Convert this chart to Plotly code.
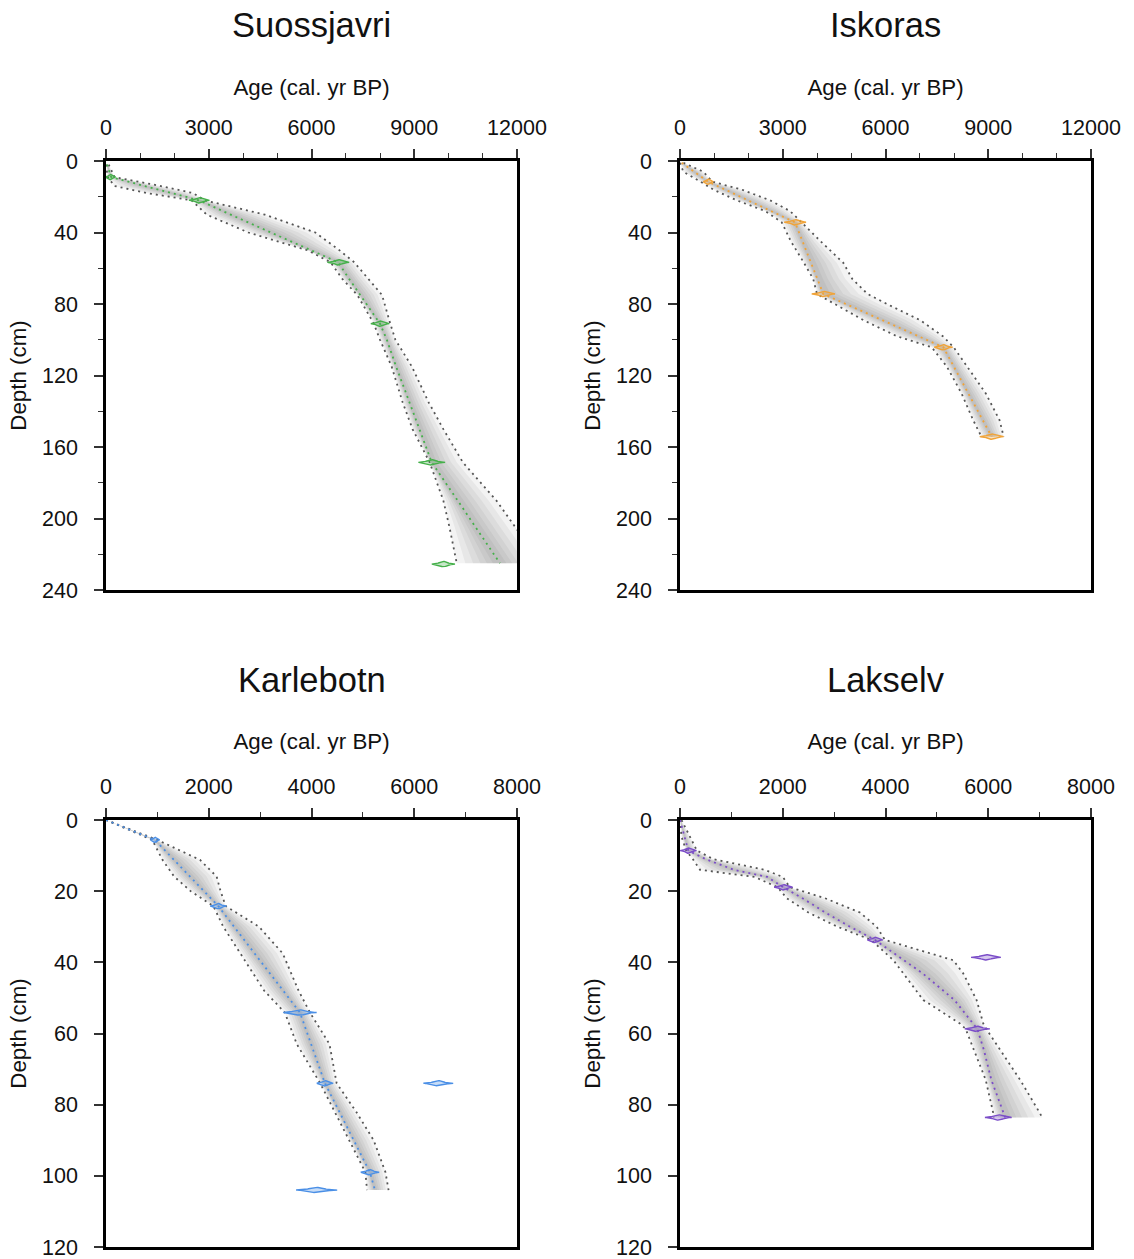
import numpy as np
import plotly.graph_objects as go

# ---------------- data ----------------
site_names = ["Suossjavri", "Iskoras", "Karlebotn", "Lakselv"]

# age-depth model: depth (cm), 95% min age, median age, 95% max age (cal. yr BP)
suo_model_depth = [2, 9, 14, 18, 22, 30, 40, 50, 56.7, 66, 75, 91, 100, 115, 135, 150, 168.6, 190, 205, 225]
suo_model_min = [0, 50, 250, 1220, 2500, 2940, 4155, 5890, 6560, 6900, 7340, 7820, 8000, 8340, 8660, 8950, 9450, 9850, 10030, 10240]
suo_model_med = [30, 150, 1130, 1915, 2720, 3640, 4820, 5995, 6780, 7100, 7430, 8000, 8200, 8470, 8860, 9150, 9510, 10270, 10800, 11500]
suo_model_max = [80, 250, 1600, 2550, 2880, 4640, 6110, 6820, 7250, 7650, 8060, 8300, 8450, 8930, 9420, 9850, 10420, 11400, 11950, 12700]
suo_date_depth = [9, 22, 56.7, 91, 168.6, 225.5]
suo_date_age = [130, 2720, 6780, 8000, 9510, 9850]
suo_date_err = [150, 300, 320, 270, 390, 340]

isk_model_depth = [1, 6, 11.6, 16, 22, 28, 34.3, 45, 57, 66, 74.4, 80, 89, 98, 104.2, 115, 130, 145, 154.2]
isk_model_min = [0, 97, 600, 973, 1655, 2490, 2970, 3240, 3620, 3890, 4000, 4530, 5350, 6330, 7350, 7790, 8220, 8560, 8800]
isk_model_med = [50, 420, 825, 1316, 1986, 2655, 3358, 3579, 3826, 4011, 4185, 4843, 5902, 6960, 7689, 7994, 8417, 8840, 9100]
isk_model_max = [100, 680, 950, 1800, 2628, 3212, 3550, 4110, 4769, 5030, 5478, 6042, 7008, 7674, 7990, 8391, 8928, 9330, 9450]
isk_date_depth = [11.6, 34.3, 74.4, 104.2, 154.2]
isk_date_age = [825, 3360, 4185, 7690, 9100]
isk_date_err = [150, 320, 340, 270, 350]

kar_model_depth = [0, 5.6, 11.2, 15.9, 20, 24.2, 30, 37.5, 48, 54.1, 63, 74, 82, 90, 99, 104]
kar_model_min = [0, 900, 1100, 1327, 1650, 2090, 2283, 2608, 3080, 3480, 3715, 4170, 4450, 4740, 5050, 5080]
kar_model_med = [0, 953, 1324, 1636, 1908, 2186, 2494, 2893, 3452, 3775, 3993, 4262, 4542, 4822, 5137, 5235]
kar_model_max = [0, 1000, 1829, 2154, 2230, 2330, 2980, 3440, 3750, 3970, 4350, 4490, 4870, 5210, 5440, 5500]
kar_date_depth = [5.6, 24.2, 54.1, 74, 74, 99, 104]
kar_date_age = [953, 2186, 3775, 4262, 6468, 5137, 4100]
kar_date_err = [90, 160, 325, 160, 290, 180, 400]

lak_model_depth = [0, 4.7, 8.6, 11, 14, 16, 18.9, 22, 26, 30, 33.7, 39.4, 43.1, 50.6, 57.2, 58.7, 64.6, 73, 82.4, 83.6]
lak_model_min = [0, 30, 120, 250, 390, 1450, 1900, 2080, 2500, 3067, 3720, 4154, 4346, 4735, 5449, 5560, 5720, 5950, 6098, 6110]
lak_model_med = [0, 90, 161, 500, 1050, 1700, 2011, 2385, 2830, 3310, 3795, 4358, 4724, 5342, 5704, 5786, 5915, 6060, 6300, 6330]
lak_model_max = [30, 200, 330, 650, 1650, 2000, 2140, 2825, 3503, 3827, 3990, 5319, 5513, 5773, 5903, 5960, 6227, 6620, 7006, 7050]
lak_date_depth = [8.6, 18.9, 33.7, 38.6, 58.7, 83.6]
lak_date_age = [161, 2011, 3795, 5955, 5786, 6195]
lak_date_err = [160, 180, 150, 290, 245, 260]

age_ticks_top = [0, 3000, 6000, 9000, 12000]
age_ticks_bottom = [0, 2000, 4000, 6000, 8000]
depth_ticks_top = [0, 40, 80, 120, 160, 200, 240]
depth_ticks_bottom = [0, 20, 40, 60, 80, 100, 120]

# ---------------- style ----------------
W, H = 1134, 1259
FONT = "Arial, 'Liberation Sans', sans-serif"
site_colors = ["#45B04A", "#F0A338", "#4A8FE6", "#7B4DC8"]
site_fills = ["rgba(69,176,74,0.3)", "rgba(240,163,56,0.3)", "rgba(74,143,230,0.3)", "rgba(123,77,200,0.3)"]

models = [
    (suo_model_depth, suo_model_min, suo_model_med, suo_model_max),
    (isk_model_depth, isk_model_min, isk_model_med, isk_model_max),
    (kar_model_depth, kar_model_min, kar_model_med, kar_model_max),
    (lak_model_depth, lak_model_min, lak_model_med, lak_model_max),
]
dates = [
    (suo_date_depth, suo_date_age, suo_date_err),
    (isk_date_depth, isk_date_age, isk_date_err),
    (kar_date_depth, kar_date_age, kar_date_err),
    (lak_date_depth, lak_date_age, lak_date_err),
]

# pixel boxes of the four plot areas (left, right, top, bottom)
boxes = [(106, 517, 161, 590), (680, 1091, 161, 590),
         (106, 517, 820, 1247), (680, 1091, 820, 1247)]
age_ranges = [12000, 12000, 8000, 8000]
depth_ranges = [240, 240, 120, 120]
date_half_height = [1.5, 1.5, 0.75, 0.75]   # in depth units (cm)

fig = go.Figure()

band_fracs = [1.0, 0.8, 0.62, 0.45, 0.3, 0.16]

for i in range(4):
    xa = "x" if i == 0 else f"x{i+1}"
    ya = "y" if i == 0 else f"y{i+1}"
    d, mn, md, mx = (np.array(v, dtype=float) for v in models[i])

    # grey probability shading (nested bands around the median)
    for f in band_fracs:
        left = md - f * (md - mn)
        right = md + f * (mx - md)
        fig.add_trace(go.Scatter(
            x=np.concatenate([left, right[::-1]]),
            y=np.concatenate([d, d[::-1]]),
            fill="toself", fillcolor="rgba(70,70,70,0.065)",
            line=dict(width=0), mode="lines", hoverinfo="skip",
            showlegend=False, xaxis=xa, yaxis=ya))

    # 95% bounds (dotted grey)
    for b in (mn, mx):
        fig.add_trace(go.Scatter(
            x=b, y=d, mode="lines",
            line=dict(color="#555555", width=1.8, dash="2px,4px"),
            showlegend=False, hoverinfo="skip", xaxis=xa, yaxis=ya))

    # median (dotted, site colour)
    fig.add_trace(go.Scatter(
        x=md, y=d, mode="lines",
        line=dict(color=site_colors[i], width=1.8, dash="2px,4px"),
        showlegend=False, hoverinfo="skip", xaxis=xa, yaxis=ya))

    # calibrated dates (lens shapes)
    dd, da, de = dates[i]
    h = date_half_height[i]
    t = np.linspace(-1, 1, 61)
    prof = np.exp(-(2.3 * t) ** 2) * 0.9 + 0.1 * (1 - t ** 2)
    for depth, age, err in zip(dd, da, de):
        xs = np.concatenate([age + err * t, (age + err * t)[::-1], [age - err]])
        ys = np.concatenate([depth - h * prof, (depth + h * prof)[::-1], [depth]])
        fig.add_trace(go.Scatter(
            x=xs, y=ys, mode="lines", fill="toself",
            fillcolor=site_fills[i],
            line=dict(color=site_colors[i], width=1.4),
            showlegend=False, hoverinfo="skip", xaxis=xa, yaxis=ya))

layout = dict(
    width=W, height=H, margin=dict(l=0, r=0, t=0, b=0),
    paper_bgcolor="white", plot_bgcolor="white",
    font=dict(family=FONT, color="#111111"),
    showlegend=False,
)

for i in range(4):
    L, R, T, B = boxes[i]
    xkey = "xaxis" if i == 0 else f"xaxis{i+1}"
    ykey = "yaxis" if i == 0 else f"yaxis{i+1}"
    xa = "x" if i == 0 else f"x{i+1}"
    ya = "y" if i == 0 else f"y{i+1}"
    top = i < 2
    xt = age_ticks_top if top else age_ticks_bottom
    yt = depth_ticks_top if top else depth_ticks_bottom
    layout[xkey] = dict(
        domain=[L / W, R / W], anchor=ya, side="top",
        range=[0, age_ranges[i]],
        tickmode="array", tickvals=xt, ticktext=[str(v) for v in xt],
        ticks="outside", ticklen=9, tickwidth=1.5, tickcolor="#333333",
        minor=dict(dtick=1000, tick0=0, ticks="outside", ticklen=5, tickwidth=1.2, tickcolor="#333333"),
        showline=True, linewidth=2.5, linecolor="black", mirror=True,
        showgrid=False, zeroline=False, automargin=False,
        tickfont=dict(size=21.5, family=FONT, color="#111111"),
        ticklabelstandoff=6, ticklabeloverflow="allow",
        title=dict(text="Age (cal. yr BP)", font=dict(size=22.3, family=FONT, color="#111111"),
                   standoff=14 if top else 19),
    )
    ydict = dict(
        domain=[1 - B / H, 1 - T / H], anchor=xa,
        range=[depth_ranges[i], 0],
        tickmode="array", tickvals=yt, ticktext=[str(v) for v in yt],
        ticks="outside", ticklen=9, tickwidth=1.5, tickcolor="#333333",
        showline=True, linewidth=2.5, linecolor="black", mirror=True,
        showgrid=False, zeroline=False, automargin=False,
        tickfont=dict(size=21.5, family=FONT, color="#111111"),
        ticklabelstandoff=12, ticklabeloverflow="allow",
        title=dict(text="Depth (cm)", font=dict(size=22.3, family=FONT, color="#111111"), standoff=10),
    )
    if top:
        ydict["minor"] = dict(dtick=20, tick0=0, ticks="outside", ticklen=5, tickwidth=1.2, tickcolor="#333333")
    layout[ykey] = ydict

title_y_px = [25, 25, 680, 680]
annotations = []
for i in range(4):
    L, R, T, B = boxes[i]
    annotations.append(dict(
        text=site_names[i], x=(L + R) / 2 / W, y=1 - title_y_px[i] / H,
        xref="paper", yref="paper", xanchor="center", yanchor="middle",
        showarrow=False, font=dict(size=34.5, family=FONT, color="#111111")))
layout["annotations"] = annotations

fig.update_layout(**layout)
fig.write_html("out.html", config={"displayModeBar": False},
               post_script="document.body.style.margin='0px';")
